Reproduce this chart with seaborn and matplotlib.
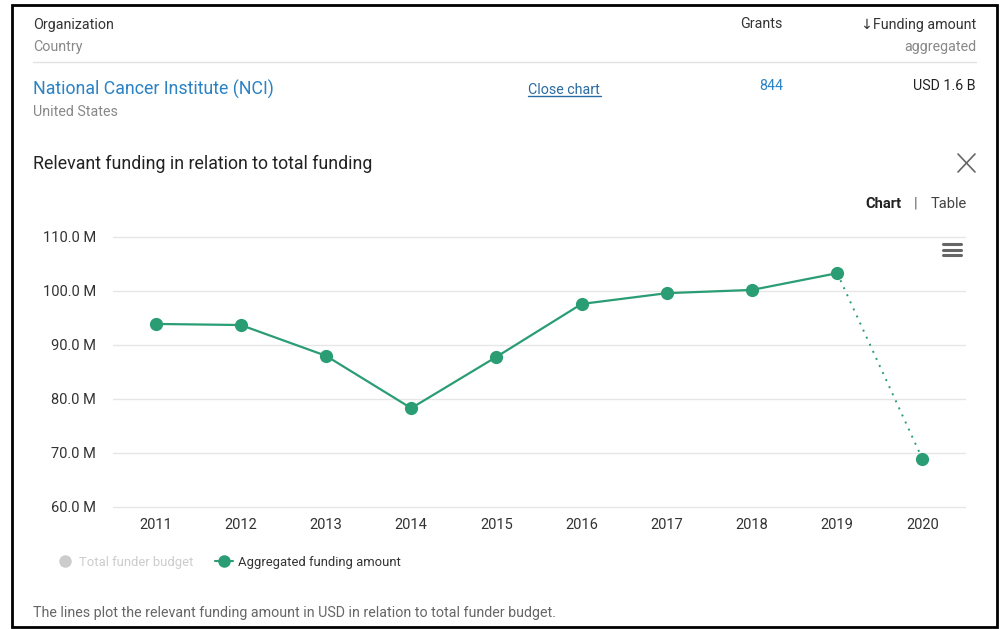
import matplotlib
matplotlib.use("Agg")
import matplotlib.pyplot as plt
import seaborn as sns
import numpy as np
from matplotlib.lines import Line2D
from matplotlib.patches import Rectangle

# ---- data ----
years = [2011, 2012, 2013, 2014, 2015, 2016, 2017, 2018, 2019, 2020]
funding_m = [93.9, 93.7, 88.0, 78.3, 87.8, 97.6, 99.6, 100.2, 103.3, 68.9]
y_ticks = [60, 70, 80, 90, 100, 110]
y_tick_labels = ["60.0 M", "70.0 M", "80.0 M", "90.0 M", "100.0 M", "110.0 M"]
legend_labels = ["Total funder budget", "Aggregated funding amount"]

sns.set_theme(style="white")
plt.rcParams["font.family"] = ["Roboto", "DejaVu Sans"]

W, H = 1003, 629
fig = plt.figure(figsize=(W / 100, H / 100), dpi=100)
fig.patch.set_facecolor("white")

def fx(px):
    return px / W

def fy(py):
    return 1 - (py + 1.5) / H

def fyl(py):
    return 1 - py / H

GREEN = "#2a9d74"

ax = fig.add_axes([fx(113), fyl(507), fx(965) - fx(113), fyl(237) - fyl(507)])

sns.lineplot(x=years[:-1], y=funding_m[:-1], ax=ax, color=GREEN, linewidth=1.6,
             marker="o", markersize=9.5, markeredgewidth=0, zorder=3)
sns.lineplot(x=years[-2:], y=funding_m[-2:], ax=ax, color=GREEN, linewidth=1.4,
             linestyle=(0, (1, 3)), zorder=2)
sns.scatterplot(x=years[-1:], y=funding_m[-1:], ax=ax, color=GREEN, s=90,
                linewidth=0, zorder=3)

ax.set_xlim(2010.5, 2020.5)
ax.set_ylim(60, 110)
ax.set_yticks(y_ticks)
ax.set_yticklabels(y_tick_labels)
ax.set_xticks(years)
ax.set_xticklabels([str(y) for y in years])
ax.grid(axis="y", color="#e6e6e6", linewidth=1)
ax.set_axisbelow(True)
for s in ax.spines.values():
    s.set_visible(False)
ax.tick_params(axis="both", length=0, labelsize=10.5, colors="#333333")
ax.tick_params(axis="y", pad=12)
ax.tick_params(axis="x", pad=8)
for ln in ax.get_ygridlines():
    ln.set_clip_on(False)

# ---- header texts ----
dark = "#333333"
grey = "#888888"
blue = "#2b82c4"
fs = 10.3
fig.text(fx(33), fy(23), "Organization", fontsize=fs, color=dark, va="center")
fig.text(fx(33), fy(45), "Country", fontsize=fs, color=grey, va="center")
fig.text(fx(783), fy(23), "Grants", fontsize=fs, color=dark, va="center", ha="right")
fig.text(fx(976), fy(23), "\u2193Funding amount", fontsize=fs, color=dark, va="center", ha="right")
fig.text(fx(976), fy(45), "aggregated", fontsize=fs, color=grey, va="center", ha="right")
fig.add_artist(Line2D([fx(33), fx(976)], [fyl(62), fyl(62)], color="#e3e3e3", linewidth=1))

fig.text(fx(33), fy(88), "National Cancer Institute (NCI)", fontsize=12.8, color=blue, va="center")
fig.text(fx(33), fy(111), "United States", fontsize=fs, color=grey, va="center")
fig.text(fx(528), fy(88), "Close chart", fontsize=fs, color="#2a6aa3", va="center")
fig.add_artist(Line2D([fx(528), fx(601)], [fyl(96), fyl(96)], color="#2a6aa3", linewidth=1))
fig.text(fx(771), fy(85), "844", fontsize=fs, color=blue, va="center", ha="center")
fig.text(fx(976), fy(85), "USD 1.6 B", fontsize=fs, color="#222222", va="center", ha="right")

fig.text(fx(33), fy(162), "Relevant funding in relation to total funding", fontsize=12.75,
         color="#222222", va="center")
# close icon
fig.add_artist(Line2D([fx(958), fx(975)], [fyl(154), fyl(172)], color="#666666", linewidth=1.2))
fig.add_artist(Line2D([fx(958), fx(975)], [fyl(172), fyl(154)], color="#666666", linewidth=1.2))

fig.text(fx(901), fy(202), "Chart", fontsize=10.5, color="#222222", va="center", ha="right",
         fontweight="bold")
fig.text(fx(916), fy(202), "|", fontsize=10.5, color="#666666", va="center", ha="center")
fig.text(fx(931), fy(202), "Table", fontsize=10.5, color="#444444", va="center")

# menu icon
for yy in (244, 249.5, 255):
    fig.add_artist(Line2D([fx(943), fx(961)], [fyl(yy), fyl(yy)], color="#666666", linewidth=2.2))

# ---- legend ----
handles = [
    Line2D([0], [0], color="#cccccc", marker="o", markersize=9, markeredgewidth=0, linewidth=0),
    Line2D([0], [0], color=GREEN, marker="o", markersize=9, markeredgewidth=0, linewidth=1.5),
]
leg = fig.legend(handles, legend_labels, loc="center left",
                 bbox_to_anchor=(fx(44), fy(561)), ncol=2, frameon=False,
                 fontsize=9.4, handlelength=1.4, handletextpad=0.4, columnspacing=1.6)
leg.get_texts()[0].set_color("#cccccc")
leg.get_texts()[1].set_color("#333333")

fig.text(fx(33), fy(611), "The lines plot the relevant funding amount in USD in relation to total funder budget.",
         fontsize=10.3, color="#666666", va="center")

# frame
fig.add_artist(Rectangle((fx(12), fyl(627)), fx(997) - fx(12), fyl(5) - fyl(627),
                         fill=False, edgecolor="black", linewidth=2, transform=fig.transFigure))

fig.savefig("out.png", dpi=100)
